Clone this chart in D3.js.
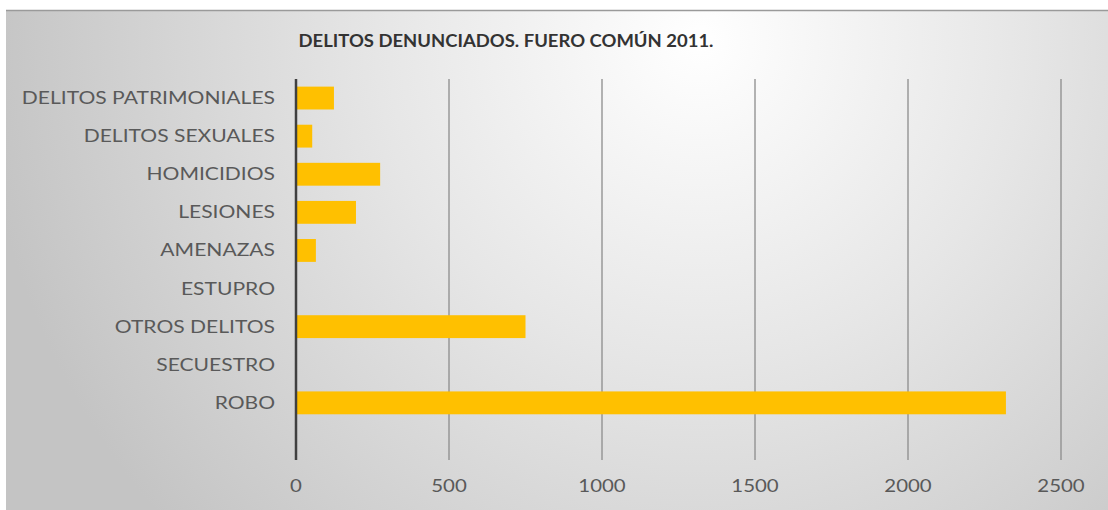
<!DOCTYPE html>
<html>
<head>
<meta charset="utf-8">
<script src="https://cdn.jsdelivr.net/npm/d3@7.9.0/dist/d3.min.js"></script>
<style>
  body { margin: 0; background: #fff; }
  svg { display: block; }
  text { font-family: Lato, "Open Sans", sans-serif; }
</style>
</head>
<body>
<svg id="chart" width="1108" height="510"></svg>
<script>
// data (top to bottom)
const categories = ['DELITOS PATRIMONIALES', 'DELITOS SEXUALES', 'HOMICIDIOS', 'LESIONES',
    'AMENAZAS', 'ESTUPRO', 'OTROS DELITOS', 'SECUESTRO', 'ROBO'];
const values = [124, 53, 275, 196, 65, 0, 750, 0, 2320];
const xTicks = [0, 500, 1000, 1500, 2000, 2500];
const title = 'DELITOS DENUNCIADOS. FUERO COMÚN 2011.';

const svg = d3.select('#chart');

// background gradient like the office chart style
const defs = svg.append('defs');
const grad = defs.append('radialGradient')
    .attr('id', 'bg')
    .attr('gradientUnits', 'userSpaceOnUse')
    .attr('cx', 700).attr('cy', 40).attr('r', 720);
grad.append('stop').attr('offset', '0%').attr('stop-color', '#ffffff');
grad.append('stop').attr('offset', '45%').attr('stop-color', '#e6e6e6');
grad.append('stop').attr('offset', '100%').attr('stop-color', '#c4c4c4');

svg.append('rect')
    .attr('x', 6).attr('y', 10)
    .attr('width', 1102).attr('height', 500)
    .attr('fill', 'url(#bg)');
svg.append('line')
    .attr('x1', 6).attr('x2', 1108).attr('y1', 10.5).attr('y2', 10.5)
    .attr('stroke', '#9a9a9a').attr('stroke-width', 1.5);

const plotTop = 79, plotBottom = 460;
const step = (plotBottom - plotTop) / 10;

const x = d3.scaleLinear().domain([0, 2500]).range([296, 1061]);
const y = d3.scaleBand()
    .domain(categories)
    .range([plotTop, plotTop + step * categories.length])
    .paddingInner(0.4).paddingOuter(0.2);

// gridlines
svg.append('g')
    .selectAll('line')
    .data(xTicks.slice(1))
    .join('line')
    .attr('x1', d => x(d)).attr('x2', d => x(d))
    .attr('y1', plotTop).attr('y2', plotBottom)
    .attr('stroke', '#8c8c8c').attr('stroke-width', 1.3);

// bars
svg.append('g')
    .selectAll('rect')
    .data(values)
    .join('rect')
    .attr('x', x(0) + 1)
    .attr('y', (d, i) => y(categories[i]))
    .attr('width', d => Math.max(0, x(d) - x(0) - 1))
    .attr('height', y.bandwidth())
    .attr('fill', '#ffc000');

// vertical category axis line
svg.append('line')
    .attr('x1', x(0)).attr('x2', x(0))
    .attr('y1', plotTop).attr('y2', plotBottom)
    .attr('stroke', '#404040').attr('stroke-width', 2.5);

// category labels (stretched a bit wider, the original looks stretched)
svg.append('g')
    .selectAll('text')
    .data(categories)
    .join('text')
    .attr('transform', d => `translate(275,${y(d) + y.bandwidth() / 2}) scale(1.24,1)`)
    .attr('dy', '0.35em')
    .attr('text-anchor', 'end')
    .attr('font-size', 17)
    .attr('fill', '#595959')
    .text(d => d);

// value tick labels
svg.append('g')
    .selectAll('text')
    .data(xTicks)
    .join('text')
    .attr('transform', d => `translate(${x(d)},492) scale(1.2,1)`)
    .attr('text-anchor', 'middle')
    .attr('font-size', 17)
    .attr('fill', '#595959')
    .text(d => d);

svg.append('text')
    .attr('transform', 'translate(506,47) scale(1.12,1)')
    .attr('text-anchor', 'middle')
    .attr('font-size', 16.5)
    .attr('font-weight', 'bold')
    .attr('fill', '#333333')
    .text(title);
</script>
</body>
</html>
